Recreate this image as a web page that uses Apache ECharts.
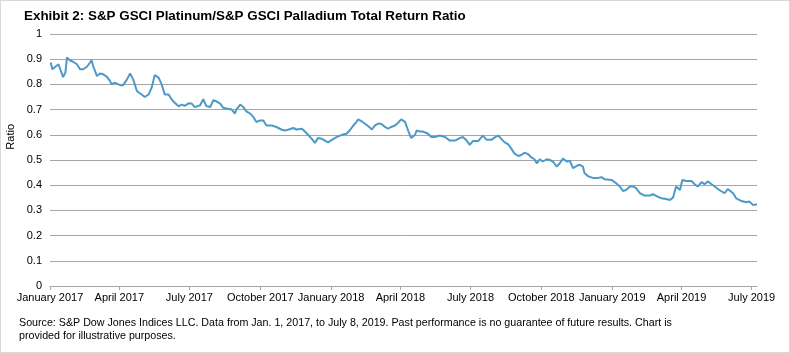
<!DOCTYPE html>
<html lang="en">
<head>
  <meta charset="UTF-8" />
  <title>Platinum/Palladium Ratio</title>
  <style>
    html, body { margin: 0; padding: 0; background: #fff; }
    #chart { width: 788px; height: 351px; border: 1px solid #d9d9d9; }
  </style>
</head>
<body>
  <div id="chart"></div>
  <script src="https://cdn.jsdelivr.net/npm/echarts@6/dist/echarts.min.js"></script>
  <script>
    // dates / ratio
    const dates = [
      '2017-01-02', '2017-01-04', '2017-01-08', '2017-01-12', '2017-01-18', '2017-01-21', '2017-01-23', '2017-01-27',
      '2017-01-31', '2017-02-05', '2017-02-09', '2017-02-13', '2017-02-18', '2017-02-22', '2017-02-24', '2017-02-26',
      '2017-03-03', '2017-03-07', '2017-03-11', '2017-03-16', '2017-03-20', '2017-03-22', '2017-03-26', '2017-04-02',
      '2017-04-06', '2017-04-11', '2017-04-15', '2017-04-19', '2017-04-24', '2017-04-30', '2017-05-04', '2017-05-09',
      '2017-05-13', '2017-05-17', '2017-05-22', '2017-05-26', '2017-05-30', '2017-06-04', '2017-06-08', '2017-06-12',
      '2017-06-17', '2017-06-21', '2017-06-25', '2017-06-30', '2017-07-04', '2017-07-08', '2017-07-15', '2017-07-19',
      '2017-07-23', '2017-07-28', '2017-08-01', '2017-08-05', '2017-08-10', '2017-08-14', '2017-08-18', '2017-08-25',
      '2017-08-29', '2017-08-31', '2017-09-05', '2017-09-09', '2017-09-13', '2017-09-18', '2017-09-22', '2017-09-26',
      '2017-10-01', '2017-10-05', '2017-10-09', '2017-10-16', '2017-10-22', '2017-10-29', '2017-11-02', '2017-11-06',
      '2017-11-13', '2017-11-17', '2017-11-24', '2017-11-28', '2017-12-02', '2017-12-07', '2017-12-11', '2017-12-15',
      '2017-12-20', '2017-12-24', '2017-12-28', '2017-12-30', '2018-01-04', '2018-01-08', '2018-01-15', '2018-01-21',
      '2018-01-25', '2018-01-30', '2018-02-03', '2018-02-05', '2018-02-10', '2018-02-14', '2018-02-18', '2018-02-23',
      '2018-02-27', '2018-03-03', '2018-03-07', '2018-03-12', '2018-03-16', '2018-03-20', '2018-03-25', '2018-03-29',
      '2018-04-02', '2018-04-07', '2018-04-11', '2018-04-15', '2018-04-20', '2018-04-22', '2018-04-26', '2018-04-30',
      '2018-05-07', '2018-05-11', '2018-05-16', '2018-05-22', '2018-05-29', '2018-06-04', '2018-06-11', '2018-06-17',
      '2018-06-21', '2018-06-26', '2018-06-30', '2018-07-04', '2018-07-11', '2018-07-17', '2018-07-22', '2018-07-28',
      '2018-08-02', '2018-08-06', '2018-08-10', '2018-08-14', '2018-08-19', '2018-08-23', '2018-08-27', '2018-09-01',
      '2018-09-05', '2018-09-09', '2018-09-14', '2018-09-18', '2018-09-22', '2018-09-25', '2018-09-29', '2018-10-03',
      '2018-10-08', '2018-10-12', '2018-10-16', '2018-10-21', '2018-10-25', '2018-10-29', '2018-11-03', '2018-11-07',
      '2018-11-11', '2018-11-16', '2018-11-20', '2018-11-24', '2018-11-26', '2018-12-01', '2018-12-07', '2018-12-14',
      '2018-12-18', '2018-12-22', '2018-12-31', '2019-01-06', '2019-01-11', '2019-01-15', '2019-01-19', '2019-01-24',
      '2019-01-28', '2019-02-01', '2019-02-06', '2019-02-12', '2019-02-19', '2019-02-23', '2019-03-01', '2019-03-06',
      '2019-03-12', '2019-03-17', '2019-03-21', '2019-03-23', '2019-03-25', '2019-03-27', '2019-03-30', '2019-04-02',
      '2019-04-07', '2019-04-14', '2019-04-18', '2019-04-22', '2019-04-27', '2019-05-01', '2019-05-05', '2019-05-10',
      '2019-05-14', '2019-05-20', '2019-05-27', '2019-05-31', '2019-06-07', '2019-06-11', '2019-06-18', '2019-06-24',
      '2019-06-28', '2019-07-03', '2019-07-08'
    ]
    const ratio = [
      0.887, 0.86, 0.87, 0.88, 0.829, 0.847, 0.907, 0.895,
      0.89, 0.88, 0.86, 0.86, 0.87, 0.887, 0.896, 0.873,
      0.833, 0.843, 0.84, 0.83, 0.813, 0.8, 0.807, 0.797,
      0.797, 0.82, 0.843, 0.82, 0.773, 0.76, 0.75, 0.76,
      0.787, 0.837, 0.827, 0.8, 0.76, 0.76, 0.74, 0.727,
      0.713, 0.72, 0.715, 0.725, 0.724, 0.71, 0.717, 0.741,
      0.714, 0.71, 0.737, 0.733, 0.724, 0.707, 0.704, 0.7,
      0.684, 0.7, 0.72, 0.71, 0.693, 0.684, 0.671, 0.651,
      0.657, 0.657, 0.637, 0.637, 0.631, 0.62, 0.617, 0.62,
      0.627, 0.621, 0.624, 0.613, 0.6, 0.584, 0.568, 0.587,
      0.584, 0.577, 0.57, 0.568, 0.584, 0.591, 0.6, 0.604,
      0.617, 0.637, 0.651, 0.661, 0.653, 0.644, 0.635, 0.621,
      0.637, 0.644, 0.644, 0.631, 0.624, 0.631, 0.637, 0.648,
      0.661, 0.651, 0.617, 0.587, 0.6, 0.617, 0.613, 0.613,
      0.604, 0.591, 0.591, 0.597, 0.591, 0.577, 0.577, 0.587,
      0.591, 0.577, 0.56, 0.575, 0.575, 0.597, 0.58, 0.58,
      0.591, 0.597, 0.584, 0.571, 0.562, 0.545, 0.526, 0.516,
      0.52, 0.529, 0.523, 0.51, 0.503, 0.487, 0.503, 0.494,
      0.503, 0.5, 0.494, 0.474, 0.487, 0.506, 0.494, 0.497,
      0.468, 0.477, 0.481, 0.474, 0.448, 0.435, 0.429, 0.429,
      0.432, 0.424, 0.421, 0.408, 0.395, 0.377, 0.381, 0.395,
      0.395, 0.388, 0.368, 0.359, 0.359, 0.364, 0.355, 0.348,
      0.345, 0.341, 0.351, 0.351, 0.395, 0.401, 0.381, 0.421,
      0.417, 0.417, 0.404, 0.395, 0.412, 0.404, 0.415, 0.404,
      0.395, 0.381, 0.368, 0.385, 0.368, 0.348, 0.337, 0.332,
      0.335, 0.321, 0.324
    ]
    const tickDates = [
      '2017-01-01', '2017-04-01', '2017-07-01', '2017-10-01', '2018-01-01', '2018-04-01',
      '2018-07-01', '2018-10-01', '2019-01-01', '2019-04-01', '2019-07-01'
    ]
    const monthNames = ['January', 'February', 'March', 'April', 'May', 'June', 'July',
      'August', 'September', 'October', 'November', 'December']

    const ts = s => {
      const p = s.split('-').map(Number)
      return Date.UTC(p[0], p[1] - 1, p[2])
    }
    const tickValues = tickDates.map(ts)

    const chart = echarts.init(document.getElementById('chart'))
    const font = 'Arial, "Liberation Sans", sans-serif'

    chart.setOption({
      animation: false,
      textStyle: { fontFamily: font },
      grid: { left: 49, right: 32, top: 33, bottom: 66 },
      title: {
        text: 'Exhibit 2: S&P GSCI Platinum/S&P GSCI Palladium Total Return Ratio',
        left: 18,
        top: 4,
        textStyle: { fontSize: 13.4, fontWeight: 'bold', color: '#000', fontFamily: font }
      },
      graphic: [
        {
          type: 'text',
          left: 4,
          top: 123,
          rotation: Math.PI / 2,
          style: { text: 'Ratio', fontSize: 11, fill: '#000', fontFamily: font }
        },
        {
          type: 'text',
          left: 18,
          top: 316,
          style: {
            text: 'Source: S&P Dow Jones Indices LLC. Data from Jan. 1, 2017, to July 8, 2019. Past performance is no guarantee of future results. Chart is\nprovided for illustrative purposes.',
            fontSize: 10.7,
            lineHeight: 13,
            fill: '#000',
            fontFamily: font
          }
        }
      ],
      xAxis: {
        type: 'value',
        min: ts('2017-01-01'),
        max: ts('2019-07-08'),
        axisLine: { lineStyle: { color: '#a6a6a6' } },
        axisTick: { show: true, length: 4, customValues: tickValues, lineStyle: { color: '#a6a6a6' } },
        axisLabel: {
          customValues: tickValues,
          color: '#000',
          fontSize: 11,
          margin: 6,
          hideOverlap: false,
          formatter: v => {
            const d = new Date(v)
            return monthNames[d.getUTCMonth()] + ' ' + d.getUTCFullYear()
          }
        },
        splitLine: { show: false }
      },
      yAxis: {
        type: 'value',
        min: 0,
        max: 1,
        interval: 0.1,
        axisLine: { show: false },
        axisTick: { show: false },
        axisLabel: { color: '#000', fontSize: 11, margin: 8 },
        splitLine: { lineStyle: { color: '#a6a6a6', width: 1 } }
      },
      series: [
        {
          type: 'line',
          data: dates.map((d, i) => [ts(d), ratio[i]]),
          showSymbol: false,
          symbol: 'none',
          lineStyle: { color: '#4d9ac8', width: 2 }
        }
      ]
    })
  </script>
</body>
</html>
